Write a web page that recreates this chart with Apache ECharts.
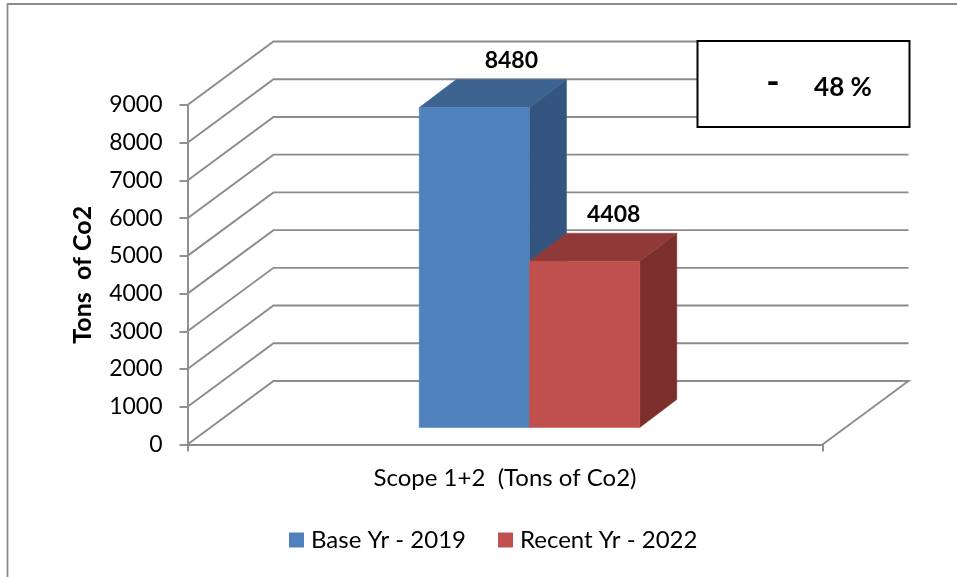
<!DOCTYPE html>
<html>
<head>
<meta charset="utf-8">
<script src="https://cdn.jsdelivr.net/npm/echarts@6/dist/echarts.min.js"></script>
<style>html,body{margin:0;padding:0;background:#fff}#c{width:957px;height:577px}</style>
</head>
<body>
<div id="c"></div>
<script>
const categories = ['Scope 1+2  (Tons of Co2)'];
const seriesNames = ['Base Yr - 2019', 'Recent Yr - 2022'];
const baseValues = [8480];
const recentValues = [4408];
const yTicks = [0, 1000, 2000, 3000, 4000, 5000, 6000, 7000, 8000, 9000];
const calloutText = '48 %';

const FONT = 'Lato';
const GRID = '#8c8c8c';
const DEPTH = { dx: 86, dy: 63.5 };
const BAR = { w: 110.3, frontX: 24.5, frontY: 17, dx: 37, dy: 28 };
const chart = echarts.init(document.getElementById('c'), null, { renderer: 'canvas' });

function wallItem(params, api) {
  const cs = params.coordSys;
  const v = api.value(0);
  const y = api.coord([0, v])[1];
  const x0 = cs.x, x1 = cs.x + cs.width;
  const pts = [[x0, y], [x0 + DEPTH.dx, y - DEPTH.dy], [x1 + DEPTH.dx, y - DEPTH.dy]];
  if (v === 0) pts.push([x1, y]);
  return { type: 'polyline', shape: { points: pts }, style: { stroke: GRID, lineWidth: 1.9, fill: null }, silent: true };
}

function barRenderer(index, front, side, top, labelShift) {
  return function (params, api) {
    const catX = api.coord([api.value(0), 0])[0];
    const topC = api.coord([api.value(0), api.value(1)]);
    const baseC = api.coord([api.value(0), 0]);
    const l = catX + BAR.frontX + (index - 1) * BAR.w;
    const r = l + BAR.w;
    const t = topC[1] - BAR.frontY;
    const b = baseC[1] - BAR.frontY;
    const poly = (pts, fill) => ({ type: 'polygon', shape: { points: pts }, style: { fill: fill, stroke: fill, lineWidth: 0.5 } });
    return {
      type: 'group',
      children: [
        poly([[r, t], [r + BAR.dx, t - BAR.dy], [r + BAR.dx, b - BAR.dy], [r, b]], side),
        poly([[l, t], [l + BAR.dx, t - BAR.dy], [r + BAR.dx, t - BAR.dy], [r, t]], top),
        poly([[l, t], [r, t], [r, b], [l, b]], front),
        {
          type: 'text',
          style: {
            x: (l + r) / 2 + BAR.dx + labelShift, y: t - BAR.dy - 19,
            text: String(api.value(1)), fill: '#000',
            font: 'bold 23px ' + FONT, align: 'center', verticalAlign: 'middle'
          }
        }
      ]
    };
  };
}

chart.setOption({
  animation: false,
  backgroundColor: '#fff',
  grid: { left: 187.5, right: 134.5, top: 105, bottom: 132.5, containLabel: false },
  legend: {
    data: seriesNames,
    left: 284, top: 523,
    icon: 'rect', itemWidth: 15, itemHeight: 15, itemGap: 32,
    textStyle: { fontFamily: FONT, fontSize: 24, color: '#000', padding: [0, 0, 0, 2] }
  },
  xAxis: {
    type: 'category', data: categories,
    axisLine: { lineStyle: { color: GRID, width: 1.9 } },
    axisTick: { show: true, alignWithLabel: false, length: 7, lineStyle: { color: GRID, width: 1.9 } },
    axisLabel: { color: '#000', fontFamily: FONT, fontSize: 24, margin: 22 }
  },
  yAxis: {
    type: 'value', min: 0, max: 9000, interval: 1000,
    name: 'Tons  of Co2', nameLocation: 'middle', nameGap: 92, nameRotate: 90,
    nameTextStyle: { color: '#000', fontFamily: FONT, fontSize: 25, fontWeight: 'bold' },
    axisLine: { show: true, lineStyle: { color: GRID, width: 1.9 } },
    axisTick: { show: true, length: 8, lineStyle: { color: GRID, width: 1.9 } },
    axisLabel: { color: '#000', fontFamily: FONT, fontSize: 23, margin: 25, formatter: v => String(v) },
    splitLine: { show: false }
  },
  series: [
    { type: 'custom', name: 'walls', z: 1, silent: true, coordinateSystem: 'cartesian2d',
      data: yTicks.map(v => [v]), encode: { y: 0 }, renderItem: wallItem },
    { type: 'custom', name: seriesNames[0], z: 2, itemStyle: { color: '#4f81bd' },
      data: baseValues.map((v, i) => [i, v]), encode: { x: 0, y: 1 },
      renderItem: barRenderer(0, '#4f81bd', '#34557f', '#3d6391', 0) },
    { type: 'custom', name: seriesNames[1], z: 3, itemStyle: { color: '#c0504d' },
      data: recentValues.map((v, i) => [i, v]), encode: { x: 0, y: 1 },
      renderItem: barRenderer(1, '#c0504d', '#7c302e', '#8f3a38', -8) }
  ],
  graphic: [
    { type: 'rect', z: 100, silent: true, shape: { x: 7.5, y: 4, width: 1000, height: 1000 },
      style: { fill: null, stroke: '#8c8c8c', lineWidth: 1.8 } },
    { type: 'rect', z: 100, silent: true, shape: { x: 697.5, y: 41, width: 212, height: 86 },
      style: { fill: '#fff', stroke: '#000', lineWidth: 2 } },
    { type: 'text', z: 101, silent: true, style: { x: 773, y: 82, text: '-', fill: '#000',
      font: 'bold 36px ' + FONT, align: 'center', verticalAlign: 'middle' } },
    { type: 'text', z: 101, silent: true, style: { x: 843, y: 88, text: calloutText, fill: '#000',
      font: 'bold 26px ' + FONT, align: 'center', verticalAlign: 'middle' } }
  ]
});
</script>
</body>
</html>
